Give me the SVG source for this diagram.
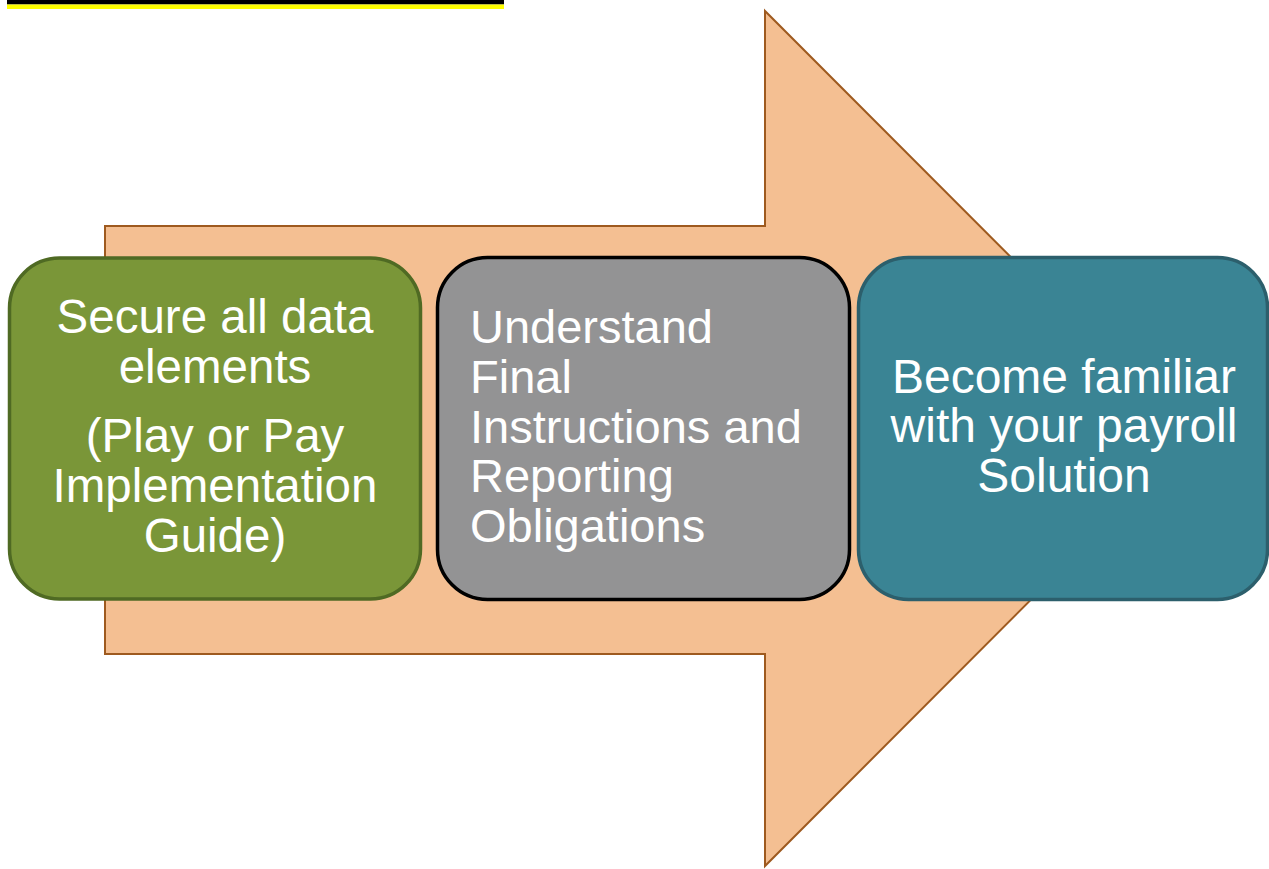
<svg xmlns="http://www.w3.org/2000/svg" width="1269" height="869" viewBox="0 0 1269 869">
<style>
.lbl{font-family:"Liberation Sans",Arial,sans-serif;fill:#ffffff;}
.c{text-anchor:middle;}
.box{stroke-width:3.5;}
</style>
<rect x="0" y="0" width="1269" height="869" fill="#ffffff"/>
<g id="header-bar">
<rect x="7" y="0" width="497" height="4.5" fill="#000000"/>
<rect x="7" y="4.5" width="497" height="4.5" fill="#ffff00"/>
</g>
<g id="arrow">
<path d="M105,226 H765 V11 L1192,438.5 L765,866 V654 H105 Z" fill="#f4bf92" stroke="#9e5a1f" stroke-width="2"/>
</g>
<g id="connectors"></g>
<g id="node-secure">
<rect class="box" x="9.5" y="258" width="411" height="341" rx="50" fill="#7a9638" stroke="#4f6a23"/>
<text class="lbl c" font-size="47.5" x="215" y="333">Secure all data</text>
<text class="lbl c" font-size="47.5" x="215" y="383">elements</text>
<text class="lbl c" font-size="47.5" x="215" y="452">(Play or Pay</text>
<text class="lbl c" font-size="47.5" x="215" y="502">Implementation</text>
<text class="lbl c" font-size="47.5" x="215" y="552">Guide)</text>
</g>
<g id="node-understand">
<rect class="box" x="437.5" y="257.5" width="412" height="342" rx="50" fill="#939394" stroke="#000000"/>
<text class="lbl" font-size="47" x="470" y="343">Understand</text>
<text class="lbl" font-size="47" x="470" y="393">Final</text>
<text class="lbl" font-size="47" x="470" y="443">Instructions and</text>
<text class="lbl" font-size="47" x="470" y="492">Reporting</text>
<text class="lbl" font-size="47" x="470" y="542">Obligations</text>
</g>
<g id="node-payroll">
<rect class="box" x="858.5" y="257.5" width="409" height="342" rx="50" fill="#3a8494" stroke="#2c5f6c"/>
<text class="lbl c" font-size="48" x="1064" y="393">Become familiar</text>
<text class="lbl c" font-size="48" x="1064" y="442">with your payroll</text>
<text class="lbl c" font-size="48" x="1064" y="492">Solution</text>
</g>
</svg>
